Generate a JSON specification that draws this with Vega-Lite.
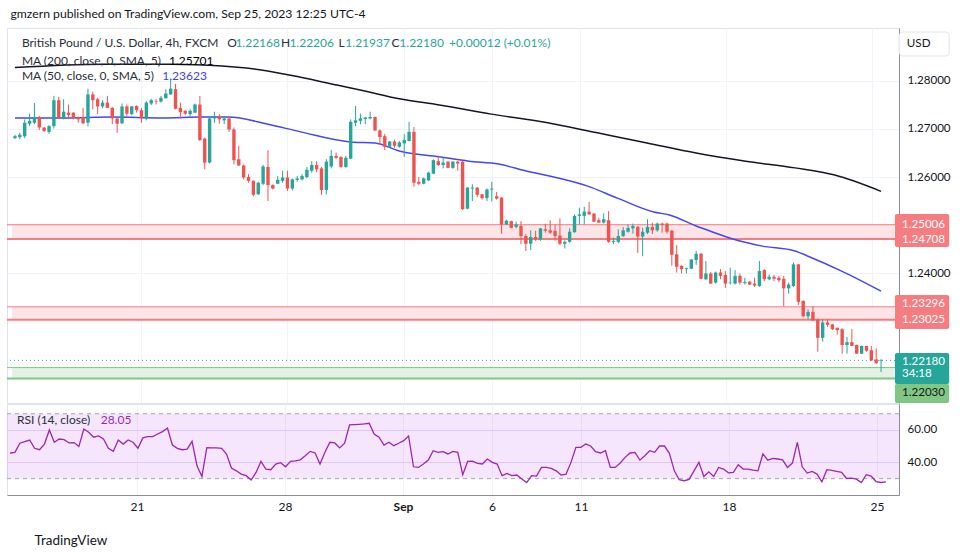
{
"$schema": "https://vega.github.io/schema/vega-lite/v6.json",
"background": "white",
"padding": {"left": 5, "top": 8, "right": 0, "bottom": 0},
"title": {"text": "gmzern published on TradingView.com, Sep 25, 2023 12:25 UTC-4", "anchor": "start", "fontSize": 12.2, "fontWeight": "normal", "color": "#131722", "font": "Lato", "offset": 7, "dx": 5},
"config": {"font": "Lato", "view": {"stroke": "#e0e3eb"}},
"spacing": -1,
"datasets": {
"candles": [
{"j":1,"o":1.2681,"h":1.2688,"l":1.2679,"c":1.2685,"r":45.8},
{"j":2,"o":1.2683,"h":1.2692,"l":1.2679,"c":1.2688,"r":46.2},
{"j":3,"o":1.2685,"h":1.2720,"l":1.2681,"c":1.2713,"r":51.8},
{"j":4,"o":1.2711,"h":1.2732,"l":1.2706,"c":1.2717,"r":52.8},
{"j":5,"o":1.2713,"h":1.2754,"l":1.2710,"c":1.2725,"r":53.8},
{"j":6,"o":1.2725,"h":1.2727,"l":1.2698,"c":1.2703,"r":48.7},
{"j":7,"o":1.2703,"h":1.2704,"l":1.2694,"c":1.2696,"r":47.8},
{"j":8,"o":1.2694,"h":1.2708,"l":1.2690,"c":1.2706,"r":51.3},
{"j":9,"o":1.2706,"h":1.2769,"l":1.2701,"c":1.2760,"r":60.0},
{"j":10,"o":1.2760,"h":1.2767,"l":1.2722,"c":1.2722,"r":52.4},
{"j":11,"o":1.2722,"h":1.2762,"l":1.2720,"c":1.2736,"r":54.4},
{"j":12,"o":1.2734,"h":1.2751,"l":1.2722,"c":1.2729,"r":54.0},
{"j":13,"o":1.2734,"h":1.2735,"l":1.2720,"c":1.2722,"r":52.0},
{"j":14,"o":1.2725,"h":1.2726,"l":1.2713,"c":1.2720,"r":52.2},
{"j":15,"o":1.2725,"h":1.2744,"l":1.2710,"c":1.2712,"r":49.9},
{"j":16,"o":1.2713,"h":1.2784,"l":1.2705,"c":1.2772,"r":60.6},
{"j":17,"o":1.2772,"h":1.2778,"l":1.2741,"c":1.2760,"r":58.6},
{"j":18,"o":1.2762,"h":1.2765,"l":1.2731,"c":1.2747,"r":55.5},
{"j":19,"o":1.2747,"h":1.2760,"l":1.2743,"c":1.2755,"r":56.3},
{"j":20,"o":1.2755,"h":1.2769,"l":1.2744,"c":1.2744,"r":54.4},
{"j":21,"o":1.2744,"h":1.2746,"l":1.2710,"c":1.2722,"r":48.7},
{"j":22,"o":1.2722,"h":1.2722,"l":1.2692,"c":1.2711,"r":46.8},
{"j":23,"o":1.2712,"h":1.2753,"l":1.2710,"c":1.2747,"r":53.8},
{"j":24,"o":1.2747,"h":1.2751,"l":1.2727,"c":1.2732,"r":51.3},
{"j":25,"o":1.2731,"h":1.2748,"l":1.2729,"c":1.2747,"r":53.8},
{"j":26,"o":1.2748,"h":1.2749,"l":1.2734,"c":1.2739,"r":52.4},
{"j":27,"o":1.2739,"h":1.2744,"l":1.2713,"c":1.2722,"r":48.7},
{"j":28,"o":1.2722,"h":1.2758,"l":1.2718,"c":1.2755,"r":55.1},
{"j":29,"o":1.2753,"h":1.2763,"l":1.2750,"c":1.2760,"r":55.9},
{"j":30,"o":1.2758,"h":1.2762,"l":1.2751,"c":1.2757,"r":55.9},
{"j":31,"o":1.2757,"h":1.2769,"l":1.2755,"c":1.2765,"r":57.5},
{"j":32,"o":1.2764,"h":1.2783,"l":1.2764,"c":1.2774,"r":59.0},
{"j":33,"o":1.2772,"h":1.2803,"l":1.2771,"c":1.2784,"r":61.2},
{"j":34,"o":1.2783,"h":1.2794,"l":1.2741,"c":1.2742,"r":50.7},
{"j":35,"o":1.2744,"h":1.2755,"l":1.2722,"c":1.2735,"r":48.7},
{"j":36,"o":1.2738,"h":1.2739,"l":1.2729,"c":1.2732,"r":47.8},
{"j":37,"o":1.2731,"h":1.2741,"l":1.2727,"c":1.2738,"r":48.2},
{"j":38,"o":1.2734,"h":1.2753,"l":1.2733,"c":1.2751,"r":53.0},
{"j":39,"o":1.2751,"h":1.2769,"l":1.2675,"c":1.2677,"r":37.9},
{"j":40,"o":1.2680,"h":1.2682,"l":1.2616,"c":1.2630,"r":31.3},
{"j":41,"o":1.2630,"h":1.2724,"l":1.2628,"c":1.2722,"r":49.1},
{"j":42,"o":1.2722,"h":1.2736,"l":1.2713,"c":1.2727,"r":48.9},
{"j":43,"o":1.2727,"h":1.2731,"l":1.2711,"c":1.2720,"r":48.9},
{"j":44,"o":1.2718,"h":1.2727,"l":1.2710,"c":1.2722,"r":48.7},
{"j":45,"o":1.2722,"h":1.2727,"l":1.2694,"c":1.2699,"r":45.2},
{"j":46,"o":1.2699,"h":1.2703,"l":1.2626,"c":1.2635,"r":36.5},
{"j":47,"o":1.2637,"h":1.2665,"l":1.2623,"c":1.2624,"r":34.8},
{"j":48,"o":1.2624,"h":1.2626,"l":1.2595,"c":1.2599,"r":32.8},
{"j":49,"o":1.2600,"h":1.2606,"l":1.2588,"c":1.2592,"r":31.8},
{"j":50,"o":1.2592,"h":1.2593,"l":1.2560,"c":1.2563,"r":29.1},
{"j":51,"o":1.2564,"h":1.2590,"l":1.2563,"c":1.2588,"r":33.8},
{"j":52,"o":1.2586,"h":1.2625,"l":1.2583,"c":1.2622,"r":40.6},
{"j":53,"o":1.2621,"h":1.2656,"l":1.2550,"c":1.2583,"r":35.9},
{"j":54,"o":1.2583,"h":1.2585,"l":1.2574,"c":1.2576,"r":35.5},
{"j":55,"o":1.2586,"h":1.2602,"l":1.2585,"c":1.2594,"r":39.0},
{"j":56,"o":1.2592,"h":1.2613,"l":1.2588,"c":1.2599,"r":39.8},
{"j":57,"o":1.2599,"h":1.2613,"l":1.2571,"c":1.2576,"r":37.3},
{"j":58,"o":1.2576,"h":1.2597,"l":1.2572,"c":1.2595,"r":40.6},
{"j":59,"o":1.2594,"h":1.2602,"l":1.2590,"c":1.2597,"r":41.0},
{"j":60,"o":1.2595,"h":1.2606,"l":1.2593,"c":1.2602,"r":41.6},
{"j":61,"o":1.2600,"h":1.2621,"l":1.2597,"c":1.2615,"r":44.1},
{"j":62,"o":1.2613,"h":1.2633,"l":1.2609,"c":1.2625,"r":46.8},
{"j":63,"o":1.2625,"h":1.2633,"l":1.2610,"c":1.2616,"r":45.8},
{"j":64,"o":1.2618,"h":1.2621,"l":1.2563,"c":1.2573,"r":39.0},
{"j":65,"o":1.2573,"h":1.2637,"l":1.2564,"c":1.2632,"r":46.2},
{"j":66,"o":1.2622,"h":1.2656,"l":1.2618,"c":1.2644,"r":52.4},
{"j":67,"o":1.2644,"h":1.2651,"l":1.2637,"c":1.2640,"r":52.0},
{"j":68,"o":1.2642,"h":1.2643,"l":1.2619,"c":1.2621,"r":48.9},
{"j":69,"o":1.2621,"h":1.2644,"l":1.2619,"c":1.2640,"r":51.8},
{"j":70,"o":1.2638,"h":1.2720,"l":1.2637,"c":1.2715,"r":63.1},
{"j":71,"o":1.2713,"h":1.2748,"l":1.2706,"c":1.2718,"r":63.3},
{"j":72,"o":1.2717,"h":1.2732,"l":1.2710,"c":1.2722,"r":63.5},
{"j":73,"o":1.2721,"h":1.2725,"l":1.2710,"c":1.2724,"r":63.7},
{"j":74,"o":1.2722,"h":1.2736,"l":1.2720,"c":1.2725,"r":64.1},
{"j":75,"o":1.2725,"h":1.2726,"l":1.2696,"c":1.2697,"r":57.5},
{"j":76,"o":1.2697,"h":1.2699,"l":1.2668,"c":1.2683,"r":55.5},
{"j":77,"o":1.2685,"h":1.2690,"l":1.2656,"c":1.2663,"r":50.7},
{"j":78,"o":1.2663,"h":1.2675,"l":1.2662,"c":1.2674,"r":52.4},
{"j":79,"o":1.2674,"h":1.2678,"l":1.2661,"c":1.2665,"r":50.3},
{"j":80,"o":1.2663,"h":1.2675,"l":1.2661,"c":1.2672,"r":51.8},
{"j":81,"o":1.2670,"h":1.2689,"l":1.2642,"c":1.2677,"r":53.4},
{"j":82,"o":1.2675,"h":1.2715,"l":1.2674,"c":1.2694,"r":56.3},
{"j":83,"o":1.2694,"h":1.2704,"l":1.2580,"c":1.2588,"r":37.3},
{"j":84,"o":1.2590,"h":1.2600,"l":1.2583,"c":1.2586,"r":36.9},
{"j":85,"o":1.2586,"h":1.2599,"l":1.2585,"c":1.2597,"r":39.0},
{"j":86,"o":1.2593,"h":1.2611,"l":1.2592,"c":1.2609,"r":41.4},
{"j":87,"o":1.2607,"h":1.2637,"l":1.2606,"c":1.2635,"r":47.2},
{"j":88,"o":1.2633,"h":1.2644,"l":1.2623,"c":1.2625,"r":46.2},
{"j":89,"o":1.2625,"h":1.2640,"l":1.2618,"c":1.2630,"r":46.6},
{"j":90,"o":1.2632,"h":1.2633,"l":1.2618,"c":1.2619,"r":45.2},
{"j":91,"o":1.2619,"h":1.2633,"l":1.2617,"c":1.2632,"r":46.8},
{"j":92,"o":1.2632,"h":1.2633,"l":1.2613,"c":1.2628,"r":46.2},
{"j":93,"o":1.2632,"h":1.2633,"l":1.2531,"c":1.2533,"r":32.4},
{"j":94,"o":1.2534,"h":1.2579,"l":1.2533,"c":1.2578,"r":40.6},
{"j":95,"o":1.2576,"h":1.2585,"l":1.2550,"c":1.2578,"r":40.8},
{"j":96,"o":1.2578,"h":1.2579,"l":1.2558,"c":1.2563,"r":39.4},
{"j":97,"o":1.2564,"h":1.2565,"l":1.2553,"c":1.2556,"r":39.0},
{"j":98,"o":1.2556,"h":1.2576,"l":1.2550,"c":1.2574,"r":42.1},
{"j":99,"o":1.2574,"h":1.2590,"l":1.2549,"c":1.2576,"r":40.0},
{"j":100,"o":1.2560,"h":1.2569,"l":1.2553,"c":1.2555,"r":39.0},
{"j":101,"o":1.2557,"h":1.2558,"l":1.2482,"c":1.2501,"r":31.8},
{"j":102,"o":1.2501,"h":1.2511,"l":1.2500,"c":1.2509,"r":33.2},
{"j":103,"o":1.2508,"h":1.2509,"l":1.2493,"c":1.2494,"r":31.8},
{"j":104,"o":1.2496,"h":1.2507,"l":1.2493,"c":1.2501,"r":32.2},
{"j":105,"o":1.2498,"h":1.2508,"l":1.2460,"c":1.2477,"r":29.7},
{"j":106,"o":1.2477,"h":1.2481,"l":1.2446,"c":1.2461,"r":27.6},
{"j":107,"o":1.2461,"h":1.2489,"l":1.2448,"c":1.2475,"r":31.8},
{"j":108,"o":1.2475,"h":1.2488,"l":1.2467,"c":1.2470,"r":31.5},
{"j":109,"o":1.2470,"h":1.2494,"l":1.2467,"c":1.2493,"r":36.9},
{"j":110,"o":1.2491,"h":1.2503,"l":1.2484,"c":1.2488,"r":36.9},
{"j":111,"o":1.2489,"h":1.2510,"l":1.2481,"c":1.2484,"r":36.3},
{"j":112,"o":1.2488,"h":1.2501,"l":1.2467,"c":1.2477,"r":34.8},
{"j":113,"o":1.2478,"h":1.2514,"l":1.2458,"c":1.2461,"r":32.2},
{"j":114,"o":1.2461,"h":1.2468,"l":1.2451,"c":1.2465,"r":32.8},
{"j":115,"o":1.2465,"h":1.2493,"l":1.2463,"c":1.2486,"r":40.0},
{"j":116,"o":1.2485,"h":1.2522,"l":1.2484,"c":1.2519,"r":49.3},
{"j":117,"o":1.2519,"h":1.2536,"l":1.2501,"c":1.2522,"r":49.3},
{"j":118,"o":1.2519,"h":1.2538,"l":1.2501,"c":1.2528,"r":51.3},
{"j":119,"o":1.2528,"h":1.2548,"l":1.2522,"c":1.2522,"r":50.1},
{"j":120,"o":1.2524,"h":1.2524,"l":1.2506,"c":1.2507,"r":46.6},
{"j":121,"o":1.2510,"h":1.2515,"l":1.2505,"c":1.2505,"r":45.8},
{"j":122,"o":1.2505,"h":1.2524,"l":1.2503,"c":1.2512,"r":47.2},
{"j":123,"o":1.2510,"h":1.2529,"l":1.2463,"c":1.2465,"r":36.9},
{"j":124,"o":1.2465,"h":1.2474,"l":1.2460,"c":1.2467,"r":36.9},
{"j":125,"o":1.2465,"h":1.2491,"l":1.2462,"c":1.2477,"r":39.6},
{"j":126,"o":1.2477,"h":1.2496,"l":1.2475,"c":1.2489,"r":43.1},
{"j":127,"o":1.2486,"h":1.2501,"l":1.2484,"c":1.2494,"r":45.8},
{"j":128,"o":1.2493,"h":1.2503,"l":1.2482,"c":1.2498,"r":46.2},
{"j":129,"o":1.2496,"h":1.2498,"l":1.2442,"c":1.2476,"r":41.4},
{"j":130,"o":1.2476,"h":1.2494,"l":1.2435,"c":1.2486,"r":44.1},
{"j":131,"o":1.2484,"h":1.2512,"l":1.2481,"c":1.2496,"r":47.2},
{"j":132,"o":1.2496,"h":1.2505,"l":1.2481,"c":1.2489,"r":46.2},
{"j":133,"o":1.2489,"h":1.2505,"l":1.2486,"c":1.2503,"r":50.1},
{"j":134,"o":1.2503,"h":1.2505,"l":1.2484,"c":1.2500,"r":50.1},
{"j":135,"o":1.2503,"h":1.2505,"l":1.2482,"c":1.2486,"r":45.6},
{"j":136,"o":1.2488,"h":1.2490,"l":1.2415,"c":1.2438,"r":34.8},
{"j":137,"o":1.2439,"h":1.2458,"l":1.2401,"c":1.2413,"r":29.3},
{"j":138,"o":1.2415,"h":1.2416,"l":1.2399,"c":1.2408,"r":28.7},
{"j":139,"o":1.2408,"h":1.2411,"l":1.2399,"c":1.2410,"r":29.5},
{"j":140,"o":1.2409,"h":1.2429,"l":1.2408,"c":1.2428,"r":34.8},
{"j":141,"o":1.2427,"h":1.2446,"l":1.2417,"c":1.2440,"r":40.0},
{"j":142,"o":1.2440,"h":1.2442,"l":1.2387,"c":1.2388,"r":31.3},
{"j":143,"o":1.2387,"h":1.2425,"l":1.2385,"c":1.2399,"r":34.2},
{"j":144,"o":1.2399,"h":1.2402,"l":1.2377,"c":1.2378,"r":31.3},
{"j":145,"o":1.2380,"h":1.2403,"l":1.2378,"c":1.2401,"r":36.9},
{"j":146,"o":1.2401,"h":1.2408,"l":1.2387,"c":1.2394,"r":35.9},
{"j":147,"o":1.2396,"h":1.2404,"l":1.2369,"c":1.2378,"r":33.6},
{"j":148,"o":1.2379,"h":1.2411,"l":1.2376,"c":1.2380,"r":33.8},
{"j":149,"o":1.2378,"h":1.2406,"l":1.2376,"c":1.2394,"r":38.6},
{"j":150,"o":1.2394,"h":1.2399,"l":1.2376,"c":1.2380,"r":35.9},
{"j":151,"o":1.2379,"h":1.2390,"l":1.2376,"c":1.2381,"r":35.9},
{"j":152,"o":1.2382,"h":1.2383,"l":1.2375,"c":1.2376,"r":35.3},
{"j":153,"o":1.2378,"h":1.2390,"l":1.2371,"c":1.2374,"r":34.8},
{"j":154,"o":1.2373,"h":1.2425,"l":1.2371,"c":1.2404,"r":45.2},
{"j":155,"o":1.2406,"h":1.2408,"l":1.2383,"c":1.2387,"r":41.4},
{"j":156,"o":1.2387,"h":1.2397,"l":1.2385,"c":1.2392,"r":42.5},
{"j":157,"o":1.2392,"h":1.2396,"l":1.2383,"c":1.2388,"r":42.1},
{"j":158,"o":1.2390,"h":1.2394,"l":1.2381,"c":1.2385,"r":41.6},
{"j":159,"o":1.2388,"h":1.2394,"l":1.2331,"c":1.2368,"r":36.9},
{"j":160,"o":1.2368,"h":1.2380,"l":1.2357,"c":1.2376,"r":39.6},
{"j":161,"o":1.2373,"h":1.2422,"l":1.2371,"c":1.2418,"r":52.4},
{"j":162,"o":1.2418,"h":1.2419,"l":1.2333,"c":1.2340,"r":37.3},
{"j":163,"o":1.2342,"h":1.2343,"l":1.2308,"c":1.2310,"r":33.4},
{"j":164,"o":1.2310,"h":1.2324,"l":1.2303,"c":1.2319,"r":34.4},
{"j":165,"o":1.2319,"h":1.2331,"l":1.2300,"c":1.2301,"r":32.8},
{"j":166,"o":1.2303,"h":1.2305,"l":1.2236,"c":1.2265,"r":28.0},
{"j":167,"o":1.2265,"h":1.2304,"l":1.2257,"c":1.2297,"r":35.5},
{"j":168,"o":1.2297,"h":1.2304,"l":1.2288,"c":1.2292,"r":35.1},
{"j":169,"o":1.2293,"h":1.2294,"l":1.2281,"c":1.2283,"r":34.4},
{"j":170,"o":1.2286,"h":1.2286,"l":1.2272,"c":1.2281,"r":33.8},
{"j":171,"o":1.2283,"h":1.2285,"l":1.2232,"c":1.2250,"r":30.1},
{"j":172,"o":1.2250,"h":1.2267,"l":1.2232,"c":1.2256,"r":30.3},
{"j":173,"o":1.2256,"h":1.2283,"l":1.2248,"c":1.2248,"r":29.7},
{"j":174,"o":1.2250,"h":1.2251,"l":1.2231,"c":1.2232,"r":27.6},
{"j":175,"o":1.2232,"h":1.2249,"l":1.2231,"c":1.2248,"r":32.4},
{"j":176,"o":1.2248,"h":1.2248,"l":1.2236,"c":1.2238,"r":31.5},
{"j":177,"o":1.2239,"h":1.2248,"l":1.2217,"c":1.2218,"r":28.2},
{"j":178,"o":1.2220,"h":1.2243,"l":1.2211,"c":1.2212,"r":27.6},
{"j":179,"o":1.22168,"h":1.22206,"l":1.21937,"c":1.2218,"r":28.05}
],
"ma": [
{"s":"200","j":1,"v":1.2828},{"s":"200","j":19.1,"v":1.2835},{"s":"200","j":33.3,"v":1.2835},{"s":"200","j":43.5,"v":1.2831},{"s":"200","j":51.6,"v":1.2823},{"s":"200","j":59.7,"v":1.2808},{"s":"200","j":67.9,"v":1.2790},{"s":"200","j":72.9,"v":1.2779},{"s":"200","j":80,"v":1.2763},{"s":"200","j":88.2,"v":1.2750},{"s":"200","j":98.9,"v":1.2731},{"s":"200","j":110.5,"v":1.2713},{"s":"200","j":120.7,"v":1.2692},{"s":"200","j":130.9,"v":1.2671},{"s":"200","j":141,"v":1.2650},{"s":"200","j":151.2,"v":1.2633},{"s":"200","j":161.3,"v":1.2619},{"s":"200","j":169.5,"v":1.2604},{"s":"200","j":179,"v":1.25701},
{"s":"50","j":1,"v":1.2723},{"s":"50","j":11,"v":1.2723},{"s":"50","j":21.1,"v":1.2725},{"s":"50","j":31.3,"v":1.2723},{"s":"50","j":39.4,"v":1.2725},{"s":"50","j":44.9,"v":1.2725},{"s":"50","j":53,"v":1.2710},{"s":"50","j":59.7,"v":1.2694},{"s":"50","j":69.9,"v":1.2673},{"s":"50","j":75,"v":1.2671},{"s":"50","j":80,"v":1.2654},{"s":"50","j":88.2,"v":1.2642},{"s":"50","j":94.3,"v":1.2633},{"s":"50","j":100.4,"v":1.2627},{"s":"50","j":105.9,"v":1.2613},{"s":"50","j":112.6,"v":1.2598},{"s":"50","j":118.7,"v":1.2581},{"s":"50","j":124.8,"v":1.2556},{"s":"50","j":132.3,"v":1.2527},{"s":"50","j":135.5,"v":1.2521},{"s":"50","j":141,"v":1.2498},{"s":"50","j":143.7,"v":1.2488},{"s":"50","j":149.8,"v":1.2467},{"s":"50","j":154.6,"v":1.2456},{"s":"50","j":161.3,"v":1.2446},{"s":"50","j":164,"v":1.2435},{"s":"50","j":170.9,"v":1.2404},{"s":"50","j":179,"v":1.23623}
],
"zones": [{"k":"r","lo":1.24708,"hi":1.25006},{"k":"r","lo":1.23025,"hi":1.23296},{"k":"g","lo":1.2180,"hi":1.2203}],
"boxes": [{"k":"r","top":1.25229,"bot":1.24542},{"k":"r","top":1.23542,"bot":1.22833},{"k":"t","top":1.22333,"bot":1.21688},{"k":"g","top":1.21688,"bot":1.21292}],
"boxlabels": [{"k":"r","p":1.2501,"t":"1.25006"},{"k":"r","p":1.24688,"t":"1.24708"},{"k":"r","p":1.2336,"t":"1.23296"},{"k":"r","p":1.23021,"t":"1.23025"},{"k":"t","p":1.22156,"t":"1.22180"},{"k":"t","p":1.21886,"t":"34:18"},{"k":"g","p":1.2150,"t":"1.22030"}],
"legend": [
{"x":2.42,"y":1.28785,"t":"British Pound / U.S. Dollar, 4h, FXCM","k":"d"},
{"x":44.63,"y":1.28785,"t":"O","k":"d"},{"x":46.3,"y":1.28785,"t":"1.22168","k":"t"},
{"x":55.66,"y":1.28785,"t":"H","k":"d"},{"x":57.4,"y":1.28785,"t":"1.22206","k":"t"},
{"x":67.51,"y":1.28785,"t":"L","k":"d"},{"x":68.9,"y":1.28785,"t":"1.21937","k":"t"},
{"x":78.36,"y":1.28785,"t":"C","k":"d"},{"x":80.0,"y":1.28785,"t":"1.22180","k":"t"},
{"x":90.21,"y":1.28785,"t":"+0.00012 (+0.01%)","k":"t"},
{"x":2.42,"y":1.28417,"t":"MA (200, close, 0, SMA, 5)","k":"d"},{"x":32.64,"y":1.28417,"t":"1.25701","k":"b"},
{"x":2.42,"y":1.28104,"t":"MA (50, close, 0, SMA, 5)","k":"d"},{"x":31.28,"y":1.28104,"t":"1.23623","k":"u"}
],
"rsileg": [{"x":2.42,"y":66.4,"t":"RSI (14, close)","k":"d"},{"x":19.43,"y":66.4,"t":"28.05","k":"p"}],
"levels": [{"v":70},{"v":30}]
},
"vconcat": [
{
"width": 892, "height": 375,
"layer": [
{"data":{"name":"zones"},"mark":{"type":"rect"},
 "encoding":{"x":{"datum":0.39,"type":"quantitative","scale":{"domain":[0.39,181.66],"nice":false,"zero":false}},"x2":{"datum":181.66},
 "y":{"field":"lo","type":"quantitative","scale":{"domain":[1.21292,1.29104],"nice":false,"zero":false}},"y2":{"field":"hi"},
 "color":{"condition":{"test":"datum.k=='g'","value":"#e3f2e4"},"value":"#fde4e6"}}},
{"data":{"name":"zones"},"mark":{"type":"rule","strokeWidth":1},
 "encoding":{"y":{"field":"hi","type":"quantitative","scale":{"domain":[1.21292,1.29104],"nice":false,"zero":false}},
 "color":{"condition":{"test":"datum.k=='g'","value":"#81c784"},"value":"#f77c80"}}},
{"data":{"name":"zones"},"mark":{"type":"rule","strokeWidth":2},
 "encoding":{"y":{"field":"lo","type":"quantitative","scale":{"domain":[1.21292,1.29104],"nice":false,"zero":false}},
 "color":{"condition":{"test":"datum.k=='g'","value":"#81c784"},"value":"#f77c80"}}},
{"data":{"name":"candles"},"transform":[{"filter":"datum.j==179"}],"mark":{"type":"rule","strokeDash":[1,3],"color":"#26a69a","strokeWidth":1},
 "encoding":{"y":{"field":"c","type":"quantitative","scale":{"domain":[1.21292,1.29104],"nice":false,"zero":false}}}},
{"data":{"name":"ma"},"transform":[{"filter":"datum.s=='200'"}],"mark":{"type":"line","strokeWidth":1.5,"color":"#131722","interpolate":"monotone"},
 "encoding":{"x":{"field":"j","type":"quantitative","scale":{"domain":[0.39,181.66],"nice":false,"zero":false}},"y":{"field":"v","type":"quantitative","scale":{"domain":[1.21292,1.29104],"nice":false,"zero":false}}}},
{"data":{"name":"ma"},"transform":[{"filter":"datum.s=='50'"}],"mark":{"type":"line","strokeWidth":1.5,"color":"#4646f2","interpolate":"monotone"},
 "encoding":{"x":{"field":"j","type":"quantitative","scale":{"domain":[0.39,181.66],"nice":false,"zero":false}},"y":{"field":"v","type":"quantitative","scale":{"domain":[1.21292,1.29104],"nice":false,"zero":false}}}},
{"data":{"name":"candles"},"mark":{"type":"rule","strokeWidth":1},
 "encoding":{"x":{"field":"j","type":"quantitative","scale":{"domain":[0.39,181.66],"nice":false,"zero":false},
   "axis":{"values":[26.81,56.88,80.86,98.95,117.03,147.11,177.18],"grid":true,"gridColor":"#f0f3fa","labels":false,"ticks":false,"domain":false,"title":null,"minExtent":0,"maxExtent":0,"offset":0}},
 "y":{"field":"l","type":"quantitative","scale":{"domain":[1.21292,1.29104],"nice":false,"zero":false},
   "axis":{"orient":"right","values":[1.22,1.23,1.24,1.25,1.26,1.27,1.28],"labelExpr":"(abs(datum.value-1.25)<0.0005||abs(datum.value-1.23)<0.0005||abs(datum.value-1.22)<0.0005) ? '' : format(datum.value,'.5f')","grid":true,"gridColor":"#f0f3fa","ticks":false,"domainColor":"#8a8e97","labelColor":"#131722","labelFontSize":11.6,"labelFont":"Lato","labelPadding":8,"title":null}},
 "y2":{"field":"h"},
 "color":{"condition":{"test":"datum.c>=datum.o","value":"#26a69a"},"value":"#ef5350"}}},
{"data":{"name":"candles"},"mark":{"type":"bar","width":3.4},
 "encoding":{"x":{"field":"j","type":"quantitative","scale":{"domain":[0.39,181.66],"nice":false,"zero":false}},
 "y":{"field":"o","type":"quantitative","scale":{"domain":[1.21292,1.29104],"nice":false,"zero":false}},"y2":{"field":"c"},
 "color":{"condition":{"test":"datum.c>=datum.o","value":"#26a69a"},"value":"#ef5350"}}},
{"data":{"name":"legend"},"mark":{"type":"text","align":"left","baseline":"middle","fontSize":12,"font":"Lato"},
 "encoding":{"x":{"field":"x","type":"quantitative","scale":{"domain":[0.39,181.66],"nice":false,"zero":false}},
 "y":{"field":"y","type":"quantitative","scale":{"domain":[1.21292,1.29104],"nice":false,"zero":false}},
 "text":{"field":"t"},
 "color":{"condition":[{"test":"datum.k=='t'","value":"#26a69a"},{"test":"datum.k=='u'","value":"#3d3df5"},{"test":"datum.k=='b'","value":"#000000"}],"value":"#2a2e39"}}},
{"data":{"name":"boxes"},"mark":{"type":"rect","cornerRadius":2},
 "encoding":{"x":{"datum":181.85,"type":"quantitative","scale":{"domain":[0.39,181.66],"nice":false,"zero":false}},"x2":{"datum":193.0},
 "y":{"field":"top","type":"quantitative","scale":{"domain":[1.21292,1.29104],"nice":false,"zero":false}},"y2":{"field":"bot"},
 "color":{"condition":[{"test":"datum.k=='t'","value":"#26a69a"},{"test":"datum.k=='g'","value":"#81c784"}],"value":"#f77c80"}}},
{"data":{"name":"boxlabels"},"mark":{"type":"text","align":"left","baseline":"middle","fontSize":11.6,"font":"Lato"},
 "encoding":{"x":{"datum":183.3,"type":"quantitative","scale":{"domain":[0.39,181.66],"nice":false,"zero":false}},
 "y":{"field":"p","type":"quantitative","scale":{"domain":[1.21292,1.29104],"nice":false,"zero":false}},
 "text":{"field":"t"},
 "color":{"condition":{"test":"datum.k=='g'","value":"#131722"},"value":"#ffffff"}}},
{"data":{"values":[{"u":"USD"}]},"mark":{"type":"rect","cornerRadius":4,"fill":"#ffffff","stroke":"#e0e3eb"},
 "encoding":{"x":{"datum":182.7,"type":"quantitative","scale":{"domain":[0.39,181.66],"nice":false,"zero":false}},"x2":{"datum":193.0},
 "y":{"datum":1.29021,"type":"quantitative","scale":{"domain":[1.21292,1.29104],"nice":false,"zero":false}},"y2":{"datum":1.28521}}},
{"data":{"values":[{"u":"USD"}]},"mark":{"type":"text","align":"left","baseline":"middle","fontSize":11.6,"font":"Lato","color":"#131722"},
 "encoding":{"x":{"datum":184.3,"type":"quantitative","scale":{"domain":[0.39,181.66],"nice":false,"zero":false}},
 "y":{"datum":1.28771,"type":"quantitative","scale":{"domain":[1.21292,1.29104],"nice":false,"zero":false}},"text":{"field":"u"}}}
]
},
{
"width": 892, "height": 91,
"title": {"text": "TradingView", "orient": "bottom", "anchor": "start", "fontSize": 13.5, "fontWeight": "normal", "color": "#131722", "font": "Lato", "offset": 22, "dx": 28},
"layer": [
{"data":{"values":[{"a":1}]},"mark":{"type":"rect","color":"#b040f0","opacity":0.13},
 "encoding":{"x":{"datum":0.39,"type":"quantitative","scale":{"domain":[0.39,181.66],"nice":false,"zero":false}},"x2":{"datum":181.66},
 "y":{"datum":70,"type":"quantitative","scale":{"domain":[19.9,76.0],"nice":false,"zero":false}},"y2":{"datum":30}}},
{"data":{"name":"levels"},"mark":{"type":"rule","strokeDash":[4,4],"color":"#a3a6af","strokeWidth":1},
 "encoding":{"y":{"field":"v","type":"quantitative","scale":{"domain":[19.9,76.0],"nice":false,"zero":false}}}},
{"data":{"name":"candles"},"mark":{"type":"line","strokeWidth":1.3,"color":"#9c27b0"},
 "encoding":{"x":{"field":"j","type":"quantitative","scale":{"domain":[0.39,181.66],"nice":false,"zero":false},
   "axis":{"values":[26.81,56.88,80.86,98.95,117.03,147.11,177.18],"labelExpr":"datum.value<40?'21':datum.value<70?'28':datum.value<90?'Sep':datum.value<105?'6':datum.value<130?'11':datum.value<160?'18':'25'","grid":true,"gridColor":"#f0f3fa","ticks":false,"domainColor":"#8a8e97","labelColor":"#131722","labelFontSize":12,"labelPadding":6,"labelFont":"Lato","title":null,"labelFontWeight":{"condition":{"test":"datum.value>80 && datum.value<82","value":"bold"},"value":"normal"}}},
 "y":{"field":"r","type":"quantitative","scale":{"domain":[19.9,76.0],"nice":false,"zero":false},
   "axis":{"orient":"right","values":[40,60],"format":".2f","grid":true,"gridColor":"#eadcf3","ticks":false,"domainColor":"#8a8e97","labelColor":"#131722","labelFontSize":11.6,"labelPadding":8,"labelFont":"Lato","title":null}}}},
{"data":{"name":"rsileg"},"mark":{"type":"text","align":"left","baseline":"middle","fontSize":12,"font":"Lato"},
 "encoding":{"x":{"field":"x","type":"quantitative","scale":{"domain":[0.39,181.66],"nice":false,"zero":false}},
 "y":{"field":"y","type":"quantitative","scale":{"domain":[19.9,76.0],"nice":false,"zero":false}},
 "text":{"field":"t"},
 "color":{"condition":{"test":"datum.k=='p'","value":"#9c27b0"},"value":"#2a2e39"}}}
]
}
]
}
